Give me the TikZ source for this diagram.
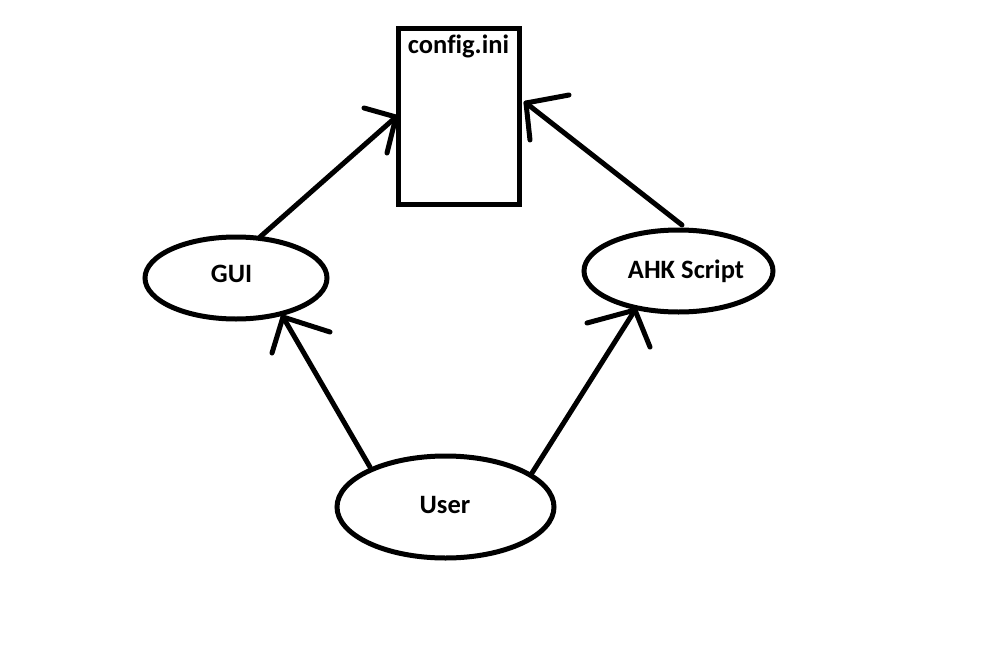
\documentclass[tikz,border=0pt]{standalone}
\usepackage{fontspec}
\setmainfont[Ligatures=NoCommon]{Carlito}
\usetikzlibrary{shapes.geometric}
\tikzset{
  shapeline/.style={draw=black, line width=5pt},
  ell/.style={shapeline, ellipse, inner sep=0pt},
  box/.style={shapeline, rectangle, inner sep=0pt},
  lbl/.style={font=\bfseries\fontsize{26.5}{30}\selectfont, inner sep=0pt, anchor=base},
  conn/.style={draw=black, line width=5pt, line cap=round, line join=round},
}
\begin{document}
\begin{tikzpicture}[x=1pt,y=-1pt]
\useasboundingbox[fill=white] (0,0) rectangle (991,648);
% shapes
\node[box, minimum width=121pt, minimum height=176pt] (cfg) at (459,116) {};
\node[ell, minimum width=182pt, minimum height=82pt] (gui) at (236,278) {};
\node[ell, minimum width=189pt, minimum height=82pt] (ahk) at (678.5,271) {};
\node[ell, minimum width=217pt, minimum height=102pt] (user) at (445.5,507) {};
% labels
\node[lbl] (cfgt) at (458.5,53) {config.ini};
\node[lbl] (guit) at (231.5,282) {GUI};
\node[lbl] (ahkt) at (686,278) {AHK Script};
\node[lbl] (usert) at (445,513) {User};
% connector end points
\coordinate (uG) at (370,467);
\coordinate (gT) at (283,317);
\coordinate (gB1) at (272,353);
\coordinate (gB2) at (330,332);
\coordinate (uA) at (532,473);
\coordinate (aT) at (635,310);
\coordinate (aB1) at (587,323);
\coordinate (aB2) at (650,347);
\coordinate (gC) at (260,237);
\coordinate (cL) at (396,117);
\coordinate (cLB1) at (364,108);
\coordinate (cLB2) at (387,153);
\coordinate (aC) at (682,225);
\coordinate (cR) at (526,103);
\coordinate (cRB1) at (569,95);
\coordinate (cRB2) at (530,140);
% connectors
\draw[conn] (uG) -- (gT);
\draw[conn] (gB1) -- (gT) -- (gB2);
\draw[conn] (uA) -- (aT);
\draw[conn] (aB1) -- (aT) -- (aB2);
\draw[conn] (gC) -- (cL);
\draw[conn] (cLB1) -- (cL) -- (cLB2);
\draw[conn] (aC) -- (cR);
\draw[conn] (cRB1) -- (cR) -- (cRB2);
\end{tikzpicture}
\end{document}
